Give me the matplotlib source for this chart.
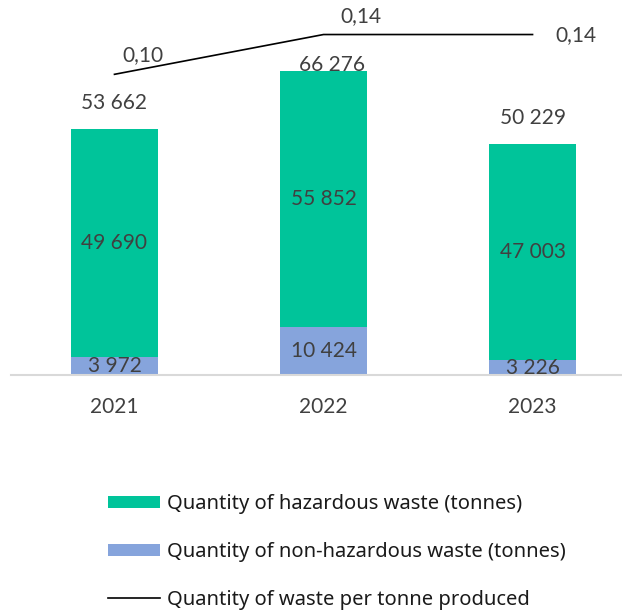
import matplotlib
matplotlib.use("Agg")
import matplotlib.pyplot as plt
from matplotlib.patches import Patch
from matplotlib.lines import Line2D

years = ["2021", "2022", "2023"]
hazardous = [49690, 55852, 47003]
non_hazardous = [3972, 10424, 3226]
totals = [53662, 66276, 50229]
per_tonne = [0.10, 0.14, 0.14]

green = "#00C49A"
blue = "#86A4DC"
txt = "#404040"


def fmt_int(v):
    return "{:,}".format(v).replace(",", " ")


def fmt_dec(v):
    return "{:.2f}".format(v).replace(".", ",")


plt.rcParams["font.family"] = ["Lato", "DejaVu Sans"]

W, H = 622, 610
fig = plt.figure(figsize=(W / 100, H / 100), dpi=100)
# plot area in pixels: x 11..622, y 0..375
ax = fig.add_axes([11 / W, 1 - 375 / H, (622 - 11) / W, 375 / H])
ax2 = ax.twinx()

x = list(range(len(years)))
bw = 0.416
ax.bar(x, non_hazardous, width=bw, color=blue, zorder=2)
ax.bar(x, hazardous, width=bw, bottom=non_hazardous, color=green, zorder=2)

ax.set_xlim(-0.495, 2.428)
ax.set_ylim(0, 81700)
ax2.set_ylim(-0.2022, 0.1747)

for s in ["top", "right", "left"]:
    ax.spines[s].set_visible(False)
    ax2.spines[s].set_visible(False)
ax2.spines["bottom"].set_visible(False)
ax.spines["bottom"].set_color("#D9D9D9")
ax.spines["bottom"].set_linewidth(1.5)
ax.set_yticks([])
ax2.set_yticks([])
ax.set_xticks(x)
ax.set_xticklabels(years, fontsize=15, color=txt)
ax.tick_params(axis="x", length=0, pad=16)

# segment labels
for i in x:
    ax.text(i, non_hazardous[i] + hazardous[i] / 2, fmt_int(hazardous[i]),
            ha="center", va="center", fontsize=15, color=txt, zorder=3)
    ax.text(i, non_hazardous[i] / 2, fmt_int(non_hazardous[i]),
            ha="center", va="center", fontsize=15, color=txt, zorder=3)

# total labels (pixel offsets from bar tops)
total_offsets = [(0, 26), (8, 6), (0, 26)]
for i in x:
    ax.annotate(fmt_int(totals[i]), (i, totals[i]), xytext=total_offsets[i],
                textcoords="offset pixels", ha="center", va="center",
                fontsize=15, color=txt, zorder=4)

ax2.plot(x, per_tonne, color="black", linewidth=1.2, zorder=3)
line_offsets = [(28, 19), (37, 18), (43, -1)]
for i in x:
    ax2.annotate(fmt_dec(per_tonne[i]), (i, per_tonne[i]), xytext=line_offsets[i],
                 textcoords="offset pixels", ha="center", va="center",
                 fontsize=15, color=txt)

handles = [
    Patch(facecolor=green, edgecolor="none"),
    Patch(facecolor=blue, edgecolor="none"),
    Line2D([], [], color="black", linewidth=1.2),
]
labels = [
    "Quantity of hazardous waste (tonnes)",
    "Quantity of non-hazardous waste (tonnes)",
    "Quantity of waste per tonne produced",
]
leg = fig.legend(handles, labels, loc="upper left",
                 bbox_to_anchor=(108 / W, 1 - 494 / H),
                 frameon=False, borderpad=0, borderaxespad=0,
                 handlelength=2.59, handletextpad=0.35, labelspacing=1.39,
                 handleheight=0.6,
                 prop={"family": ["Noto Sans", "DejaVu Sans"], "size": 14.5})
for t in leg.get_texts():
    t.set_color("#1A1A1A")

fig.savefig("out.png", dpi=100)
